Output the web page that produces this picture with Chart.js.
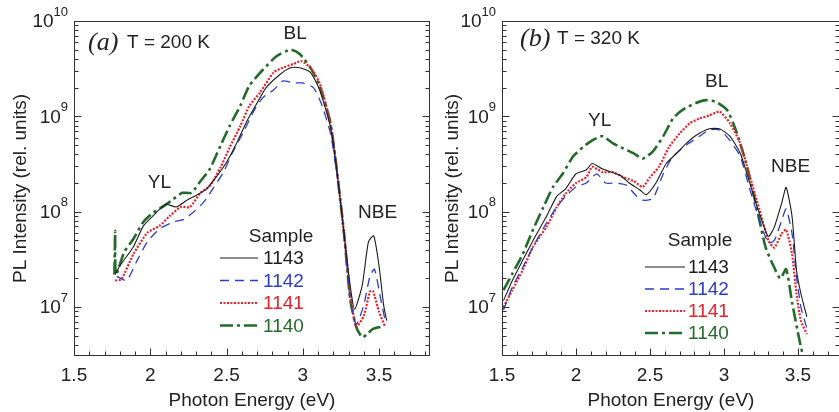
<!DOCTYPE html>
<html>
<head>
<meta charset="utf-8">
<script src="https://cdn.jsdelivr.net/npm/chart.js@4"></script>
<style>
  html, body { margin: 0; padding: 0; background: #fff; overflow: hidden; }
  #wrap { position: relative; width: 839px; height: 412px; }
  canvas { position: absolute; top: 0; }
  #chartA { left: 0; }
  #chartB { left: 430px; }
</style>
</head>
<body>
<div id="wrap">
  <canvas id="chartA" width="440" height="412"></canvas>
  <canvas id="chartB" width="420" height="412"></canvas>
</div>
<script>
// tick labels
var xTicks = [1.5, 2, 2.5, 3, 3.5];
var yTicks = [1e7, 1e8, 1e9, 1e10];
var samples = ["1143", "1142", "1141", "1140"];

// (a) T = 200 K
var a1143E = [1.77, 1.80, 1.89, 1.955, 2.02, 2.10, 2.17, 2.24, 2.30, 2.37, 2.44, 2.50, 2.57, 2.63, 2.70, 2.76, 2.85, 2.92, 2.98, 3.05, 3.11, 3.18, 3.22, 3.27, 3.31, 3.34, 3.39, 3.43, 3.465, 3.50, 3.53, 3.55];
var a1143I = [2.2e7, 2.7e7, 4.3e7, 7.1e7, 9.1e7, 1.2e8, 1.12e8, 1.32e8, 1.48e8, 1.74e8, 2.4e8, 3.3e8, 5.4e8, 8.7e8, 1.38e9, 2.0e9, 2.75e9, 3.24e9, 3.24e9, 2.9e9, 1.9e9, 7.9e8, 3.0e8, 6.0e7, 1.7e7, 9.5e6, 1.7e7, 4.8e7, 5.6e7, 2.7e7, 1.05e7, 7.2e6];
var a1142E = [1.78, 1.845, 1.91, 1.98, 2.06, 2.15, 2.22, 2.28, 2.35, 2.41, 2.48, 2.54, 2.61, 2.68, 2.74, 2.81, 2.87, 2.94, 3.00, 3.07, 3.12, 3.18, 3.22, 3.27, 3.31, 3.35, 3.40, 3.44, 3.47, 3.51, 3.54];
var a1142I = [2.1e7, 1.9e7, 3.0e7, 4.8e7, 6.6e7, 7.8e7, 8.3e7, 9.8e7, 1.26e8, 1.74e8, 2.6e8, 4.2e8, 6.8e8, 1.15e9, 1.58e9, 1.9e9, 2.35e9, 2.24e9, 2.24e9, 2.0e9, 1.38e9, 6.8e8, 2.8e8, 6.0e7, 1.23e7, 6.6e6, 1.05e7, 2.1e7, 2.5e7, 1.23e7, 7.2e6];
var a1141E = [1.77, 1.81, 1.89, 1.98, 2.06, 2.13, 2.20, 2.26, 2.33, 2.39, 2.46, 2.52, 2.59, 2.65, 2.72, 2.81, 2.87, 2.94, 2.99, 3.05, 3.11, 3.18, 3.22, 3.27, 3.31, 3.35, 3.40, 3.44, 3.46, 3.50, 3.54];
var a1141I = [1.9e7, 1.95e7, 3.6e7, 6.0e7, 7.1e7, 9.1e7, 1.12e8, 1.12e8, 1.58e8, 1.86e8, 2.9e8, 4.7e8, 7.9e8, 1.29e9, 1.78e9, 2.9e9, 3.24e9, 3.55e9, 3.8e9, 3.24e9, 2.24e9, 8.7e8, 3.0e8, 6.0e7, 1.45e7, 6.2e6, 8.1e6, 1.45e7, 1.48e7, 8.9e6, 6.2e6];
var a1140E = [1.765, 1.77, 1.775, 1.83, 1.89, 1.955, 2.02, 2.09, 2.15, 2.21, 2.27, 2.33, 2.39, 2.46, 2.52, 2.59, 2.65, 2.74, 2.83, 2.92, 2.98, 3.05, 3.11, 3.18, 3.22, 3.27, 3.31, 3.35, 3.39, 3.42, 3.46, 3.51];
var a1140I = [2.2e7, 6.3e7, 2.2e7, 3.8e7, 5.2e7, 7.8e7, 9.8e7, 1.15e8, 1.35e8, 1.58e8, 1.58e8, 2.1e8, 2.8e8, 4.9e8, 7.9e8, 1.29e9, 2.1e9, 3.1e9, 4.3e9, 5.0e9, 4.5e9, 3.24e9, 2.1e9, 8.7e8, 3.0e8, 6.0e7, 1.23e7, 6.2e6, 4.8e6, 5.2e6, 5.9e6, 6.2e6];

// (b) T = 320 K
var b1143E = [1.51, 1.57, 1.64, 1.71, 1.80, 1.87, 1.93, 2.00, 2.07, 2.11, 2.18, 2.24, 2.30, 2.36, 2.43, 2.475, 2.54, 2.61, 2.68, 2.745, 2.81, 2.90, 2.97, 3.04, 3.11, 3.17, 3.24, 3.30, 3.34, 3.39, 3.42, 3.46, 3.49, 3.52, 3.56];
var b1143I = [1.17e7, 1.9e7, 3.1e7, 5.0e7, 8.9e7, 1.45e8, 1.74e8, 2.5e8, 2.75e8, 3.2e8, 2.8e8, 2.6e8, 2.4e8, 2.0e8, 1.7e8, 1.51e8, 2.0e8, 3.2e8, 4.1e8, 5.2e8, 6.3e8, 7.4e8, 7.4e8, 6.2e8, 4.1e8, 2.1e8, 9.5e7, 5.5e7, 6.9e7, 1.23e8, 1.8e8, 8.9e7, 2.45e7, 1.38e7, 7.9e6];
var b1142E = [1.51, 1.57, 1.64, 1.71, 1.80, 1.87, 1.93, 2.00, 2.07, 2.14, 2.20, 2.27, 2.34, 2.41, 2.45, 2.52, 2.59, 2.655, 2.745, 2.835, 2.90, 2.97, 3.04, 3.11, 3.17, 3.24, 3.30, 3.34, 3.39, 3.42, 3.46, 3.49, 3.52, 3.56];
var b1142I = [9.3e6, 1.62e7, 2.6e7, 4.3e7, 7.6e7, 1.12e8, 1.45e8, 1.82e8, 2.0e8, 2.5e8, 2.0e8, 2.0e8, 1.9e8, 1.45e8, 1.32e8, 1.38e8, 2.5e8, 3.8e8, 5.0e8, 6.2e8, 7.2e8, 7.2e8, 5.6e8, 3.8e8, 1.82e8, 8.1e7, 4.7e7, 5.0e7, 8.1e7, 1.07e8, 5.9e7, 2.1e7, 1.0e7, 6.0e6];
var b1141E = [1.51, 1.57, 1.64, 1.71, 1.80, 1.87, 1.93, 2.00, 2.07, 2.11, 2.18, 2.25, 2.32, 2.39, 2.45, 2.50, 2.56, 2.63, 2.70, 2.77, 2.835, 2.90, 2.97, 3.04, 3.11, 3.17, 3.24, 3.30, 3.34, 3.39, 3.42, 3.46, 3.49, 3.52, 3.56];
var b1141I = [1.0e7, 1.51e7, 2.45e7, 4.3e7, 6.9e7, 1.12e8, 1.55e8, 2.0e8, 2.3e8, 2.95e8, 2.6e8, 2.6e8, 2.3e8, 2.1e8, 1.82e8, 2.3e8, 2.95e8, 4.8e8, 6.6e8, 8.5e8, 9.5e8, 1.02e9, 1.12e9, 8.5e8, 5.2e8, 2.5e8, 1.05e8, 5.0e7, 4.2e7, 5.9e7, 6.5e7, 3.6e7, 1.38e7, 7.2e6, 5.2e6];
var b1140E = [1.51, 1.57, 1.64, 1.71, 1.78, 1.845, 1.91, 1.98, 2.05, 2.11, 2.18, 2.25, 2.32, 2.39, 2.45, 2.52, 2.59, 2.655, 2.72, 2.81, 2.88, 2.95, 3.02, 3.08, 3.15, 3.22, 3.28, 3.33, 3.38, 3.42, 3.46, 3.51, 3.54];
var b1140I = [1.51e7, 2.24e7, 3.6e7, 6.5e7, 1.12e8, 1.82e8, 2.5e8, 3.8e8, 4.8e8, 5.6e8, 6.2e8, 5.2e8, 4.6e8, 4.1e8, 3.6e8, 4.3e8, 6.2e8, 9.5e8, 1.17e9, 1.38e9, 1.48e9, 1.41e9, 1.17e9, 7.2e8, 3.2e8, 1.12e8, 4.3e7, 2.8e7, 2.0e7, 2.5e7, 1.12e7, 4.5e6, 2.8e6];

var FONT = "'Liberation Sans', Arial, sans-serif";
var styles = {
  "1143": { color: "#1b1b1b", width: 1.1, dash: [] },
  "1142": { color: "#2c3cc8", width: 1.3, dash: [9, 6] },
  "1141": { color: "#e8202a", width: 2.2, dash: [2, 1.5] },
  "1140": { color: "#236b2a", width: 2.6, dash: [13, 4, 3, 4] }
};

function series(name, E, I) {
  var s = styles[name];
  return {
    label: name,
    data: E.map(function (e, i) { return { x: e, y: I[i] }; }),
    borderColor: s.color,
    borderWidth: s.width,
    borderDash: s.dash,
    pointRadius: 0,
    fill: false,
    tension: 0.2
  };
}

// frame, inward ticks, y labels, notes and legend
var framePlugin = {
  id: "frame",
  afterDraw: function (chart, args, o) {
    var ctx = chart.ctx, a = chart.chartArea;
    var xs = chart.scales.x, ys = chart.scales.y;
    ctx.save();
    ctx.strokeStyle = "#333";
    ctx.lineWidth = 1;
    var L = Math.round(a.left) + 0.5, R = Math.round(a.right) - 0.5;
    var T = Math.round(a.top) + 0.5, B = Math.round(a.bottom) - 0.5;
    ctx.strokeRect(L, T, R - L, B - T);

    ctx.beginPath();
    for (var i = 0; ; i++) {
      var e = 1.5 + i * 0.1;
      if (e > xs.max) break;
      var px = Math.round(xs.getPixelForValue(e)) + 0.5;
      var len = i % 5 === 0 ? 7 : 4;
      ctx.moveTo(px, B); ctx.lineTo(px, B - len);
    }
    for (var d = 1e6; d < 1e10; d *= 10) {
      for (var m = 1; m < 10; m++) {
        var v = m * d;
        if (v < ys.min || v > ys.max) continue;
        var py = Math.round(ys.getPixelForValue(v)) + 0.5;
        var ln = m === 1 ? 7 : 4;
        ctx.moveTo(L, py); ctx.lineTo(L + ln, py);
        ctx.moveTo(R, py); ctx.lineTo(R - ln, py);
      }
    }
    ctx.stroke();

    // y tick labels 10^n
    ctx.fillStyle = "#222";
    yTicks.forEach(function (v) {
      var py = ys.getPixelForValue(v);
      var ex = String(Math.round(Math.log10(v)));
      ctx.font = "13px " + FONT;
      ctx.textAlign = "right";
      ctx.textBaseline = "middle";
      var ew = ctx.measureText(ex).width;
      ctx.fillText(ex, a.left - 6, py - 9);
      ctx.font = "19px " + FONT;
      ctx.fillText("10", a.left - 6 - ew, py + 1);
    });

    // panel label
    ctx.textAlign = "left";
    ctx.textBaseline = "middle";
    ctx.font = "italic 26px 'Liberation Serif', 'Times New Roman', serif";
    ctx.fillText(o.panel, a.left + o.panelDx, a.top + o.panelDy);
    ctx.font = "19px " + FONT;
    ctx.fillText(o.temp, a.left + o.tempDx, a.top + o.panelDy);

    // band notes
    ctx.textAlign = "center";
    o.notes.forEach(function (n) {
      ctx.fillText(n.text, xs.getPixelForValue(n.x), ys.getPixelForValue(n.y));
    });

    // legend
    var lg = o.legend;
    ctx.fillStyle = "#222";
    ctx.fillText("Sample", a.left + lg.titleX, a.top + lg.titleY);
    chart.data.datasets.forEach(function (ds, k) {
      var y = a.top + lg.rowY + k * lg.rowH;
      ctx.strokeStyle = ds.borderColor;
      ctx.lineWidth = ds.borderWidth;
      ctx.setLineDash(ds.borderDash);
      ctx.beginPath();
      ctx.moveTo(a.left + lg.lineX0, y);
      ctx.lineTo(a.left + lg.lineX1, y);
      ctx.stroke();
      ctx.setLineDash([]);
      ctx.fillStyle = ds.borderColor;
      ctx.textAlign = "left";
      ctx.fillText(ds.label, a.left + lg.textX, y + 1);
    });
    ctx.restore();
  }
};

function makeChart(id, sets, xMax, yWidth, yTitlePad, frameOpts) {
  return new Chart(document.getElementById(id).getContext("2d"), {
    type: "line",
    data: { datasets: sets },
    plugins: [framePlugin],
    options: {
      responsive: false,
      animation: false,
      devicePixelRatio: 1,
      layout: { padding: { top: 21, right: 10, left: 0, bottom: 0 } },
      plugins: {
        legend: { display: false },
        tooltip: { enabled: false },
        frame: frameOpts
      },
      scales: {
        x: {
          type: "linear",
          min: 1.5,
          max: xMax,
          grid: { display: false, drawTicks: false },
          border: { display: false },
          ticks: {
            font: { family: FONT, size: 19 }, color: "#222", padding: 8, maxRotation: 0,
            callback: function (v) { return String(v); }
          },
          afterBuildTicks: function (s) { s.ticks = xTicks.map(function (v) { return { value: v }; }); },
          afterFit: function (s) { s.height = 56; },
          title: { display: true, text: "Photon Energy (eV)", font: { family: FONT, size: 19 }, color: "#222", padding: { top: 5, bottom: 0 } }
        },
        y: {
          type: "logarithmic",
          min: 3.07e6,
          max: 1e10,
          grid: { display: false, drawTicks: false },
          border: { display: false },
          ticks: { display: false },
          afterFit: function (s) { s.width = yWidth; },
          title: { display: true, text: "PL Intensity (rel. units)", font: { family: FONT, size: 19 }, color: "#222", padding: { top: yTitlePad, bottom: 0 } }
        }
      }
    }
  });
}

makeChart("chartA", [
  series("1143", a1143E, a1143I),
  series("1142", a1142E, a1142I),
  series("1141", a1141E, a1141I),
  series("1140", a1140E, a1140I)
], 3.834, 74, 9, {
  panel: "(a)", temp: "T = 200 K", panelDx: 14, tempDx: 53, panelDy: 22,
  notes: [
    { text: "YL", x: 2.06, y: 2.0e8 },
    { text: "BL", x: 2.95, y: 7.3e9 },
    { text: "NBE", x: 3.49, y: 9.8e7 }
  ],
  legend: { titleX: 207, titleY: 216, lineX0: 146, lineX1: 184, textX: 189, rowY: 237, rowH: 22.5 }
});

makeChart("chartB", [
  series("1143", b1143E, b1143I),
  series("1142", b1142E, b1142I),
  series("1141", b1141E, b1141I),
  series("1140", b1140E, b1140I)
], 3.784, 72, 11, {
  panel: "(b)", temp: "T = 320 K", panelDx: 18, tempDx: 55, panelDy: 18,
  notes: [
    { text: "YL", x: 2.16, y: 9.1e8 },
    { text: "BL", x: 2.95, y: 2.3e9 },
    { text: "NBE", x: 3.45, y: 2.95e8 }
  ],
  legend: { titleX: 198, titleY: 220, lineX0: 143, lineX1: 183, textX: 186, rowY: 246, rowH: 22 }
});
</script>
</body>
</html>
